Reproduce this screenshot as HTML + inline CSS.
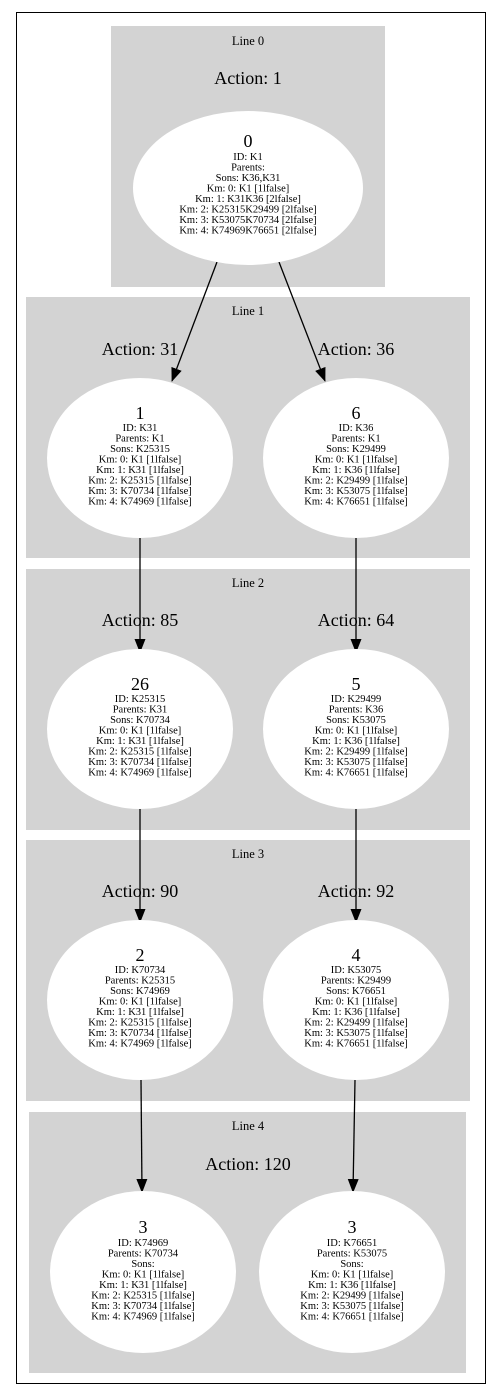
<!DOCTYPE html>
<html><head><meta charset="utf-8"><style>
html,body{margin:0;padding:0;background:#fff;width:496px;height:1400px;overflow:hidden}
text{font-family:"Liberation Serif",serif;fill:#000}
.t{font-size:10.5px}
.n{font-size:18px}
.a{font-size:18px}
.c{font-size:12.5px}
</style></head><body>
<svg width="496" height="1400" viewBox="0 0 496 1400" xmlns="http://www.w3.org/2000/svg">
<defs><marker id="ar" markerWidth="14" markerHeight="11" refX="13" refY="5.5" orient="auto" markerUnits="userSpaceOnUse" viewBox="0 0 14 11"><path d="M0,0 L14,5.5 L0,11 z" fill="#000"/></marker></defs>
<rect x="16.5" y="12.5" width="469" height="1371" fill="#fff" stroke="#000" stroke-width="1"/>
<rect x="111" y="26" width="274" height="261" fill="#d3d3d3"/>
<rect x="26" y="297" width="444" height="261" fill="#d3d3d3"/>
<rect x="26" y="569" width="444" height="261" fill="#d3d3d3"/>
<rect x="26" y="840" width="444" height="261" fill="#d3d3d3"/>
<rect x="29" y="1112" width="437" height="261" fill="#d3d3d3"/>
<g text-anchor="middle">
<text class="c" x="248" y="45">Line 0</text>
<text class="c" x="248" y="315">Line 1</text>
<text class="c" x="248" y="587">Line 2</text>
<text class="c" x="248" y="858">Line 3</text>
<text class="c" x="248" y="1130">Line 4</text>
<text class="a" x="248" y="84">Action: 1</text>
<text class="a" x="140" y="355">Action: 31</text>
<text class="a" x="356" y="355">Action: 36</text>
<text class="a" x="140" y="626">Action: 85</text>
<text class="a" x="356" y="626">Action: 64</text>
<text class="a" x="140" y="897">Action: 90</text>
<text class="a" x="356" y="897">Action: 92</text>
<text class="a" x="248" y="1170">Action: 120</text>
</g>
<g stroke="#000" stroke-width="1.3" fill="none" marker-end="url(#ar)">
<line x1="217" y1="262" x2="172" y2="381"/>
<line x1="279" y1="262" x2="325" y2="381"/>
<line x1="140" y1="538" x2="140" y2="652"/>
<line x1="356" y1="538" x2="356" y2="652"/>
<line x1="140" y1="808" x2="140" y2="922"/>
<line x1="356" y1="808" x2="356" y2="922"/>
<line x1="141" y1="1080" x2="142" y2="1192"/>
<line x1="355" y1="1080" x2="353" y2="1192"/>
</g>
<g fill="#fff">
<ellipse cx="248" cy="188" rx="115" ry="77"/>
<ellipse cx="140" cy="458" rx="93" ry="80"/>
<ellipse cx="356" cy="458" rx="93" ry="80"/>
<ellipse cx="140" cy="729" rx="93" ry="80"/>
<ellipse cx="356" cy="729" rx="93" ry="80"/>
<ellipse cx="140" cy="1000" rx="93" ry="80"/>
<ellipse cx="356" cy="1000" rx="93" ry="80"/>
<ellipse cx="143" cy="1272" rx="93" ry="81"/>
<ellipse cx="352" cy="1272" rx="93" ry="81"/>
</g>
<g text-anchor="middle">
<text class="n" x="248" y="147">0</text>
<text class="t" x="248" y="160">ID: K1</text>
<text class="t" x="248" y="170.5">Parents:</text>
<text class="t" x="248" y="181">Sons: K36,K31</text>
<text class="t" x="248" y="191.5">Km: 0: K1 [1lfalse]</text>
<text class="t" x="248" y="202">Km: 1: K31K36 [2lfalse]</text>
<text class="t" x="248" y="212.5">Km: 2: K25315K29499 [2lfalse]</text>
<text class="t" x="248" y="223">Km: 3: K53075K70734 [2lfalse]</text>
<text class="t" x="248" y="233.5">Km: 4: K74969K76651 [2lfalse]</text>

<text class="n" x="140" y="419">1</text>
<text class="t" x="140" y="431">ID: K31</text>
<text class="t" x="140" y="441.5">Parents: K1</text>
<text class="t" x="140" y="452">Sons: K25315</text>
<text class="t" x="140" y="462.5">Km: 0: K1 [1lfalse]</text>
<text class="t" x="140" y="473">Km: 1: K31 [1lfalse]</text>
<text class="t" x="140" y="483.5">Km: 2: K25315 [1lfalse]</text>
<text class="t" x="140" y="494">Km: 3: K70734 [1lfalse]</text>
<text class="t" x="140" y="504.5">Km: 4: K74969 [1lfalse]</text>

<text class="n" x="356" y="419">6</text>
<text class="t" x="356" y="431">ID: K36</text>
<text class="t" x="356" y="441.5">Parents: K1</text>
<text class="t" x="356" y="452">Sons: K29499</text>
<text class="t" x="356" y="462.5">Km: 0: K1 [1lfalse]</text>
<text class="t" x="356" y="473">Km: 1: K36 [1lfalse]</text>
<text class="t" x="356" y="483.5">Km: 2: K29499 [1lfalse]</text>
<text class="t" x="356" y="494">Km: 3: K53075 [1lfalse]</text>
<text class="t" x="356" y="504.5">Km: 4: K76651 [1lfalse]</text>

<text class="n" x="140" y="690">26</text>
<text class="t" x="140" y="702">ID: K25315</text>
<text class="t" x="140" y="712.5">Parents: K31</text>
<text class="t" x="140" y="723">Sons: K70734</text>
<text class="t" x="140" y="733.5">Km: 0: K1 [1lfalse]</text>
<text class="t" x="140" y="744">Km: 1: K31 [1lfalse]</text>
<text class="t" x="140" y="754.5">Km: 2: K25315 [1lfalse]</text>
<text class="t" x="140" y="765">Km: 3: K70734 [1lfalse]</text>
<text class="t" x="140" y="775.5">Km: 4: K74969 [1lfalse]</text>

<text class="n" x="356" y="690">5</text>
<text class="t" x="356" y="702">ID: K29499</text>
<text class="t" x="356" y="712.5">Parents: K36</text>
<text class="t" x="356" y="723">Sons: K53075</text>
<text class="t" x="356" y="733.5">Km: 0: K1 [1lfalse]</text>
<text class="t" x="356" y="744">Km: 1: K36 [1lfalse]</text>
<text class="t" x="356" y="754.5">Km: 2: K29499 [1lfalse]</text>
<text class="t" x="356" y="765">Km: 3: K53075 [1lfalse]</text>
<text class="t" x="356" y="775.5">Km: 4: K76651 [1lfalse]</text>

<text class="n" x="140" y="961">2</text>
<text class="t" x="140" y="973">ID: K70734</text>
<text class="t" x="140" y="983.5">Parents: K25315</text>
<text class="t" x="140" y="994">Sons: K74969</text>
<text class="t" x="140" y="1004.5">Km: 0: K1 [1lfalse]</text>
<text class="t" x="140" y="1015">Km: 1: K31 [1lfalse]</text>
<text class="t" x="140" y="1025.5">Km: 2: K25315 [1lfalse]</text>
<text class="t" x="140" y="1036">Km: 3: K70734 [1lfalse]</text>
<text class="t" x="140" y="1046.5">Km: 4: K74969 [1lfalse]</text>

<text class="n" x="356" y="961">4</text>
<text class="t" x="356" y="973">ID: K53075</text>
<text class="t" x="356" y="983.5">Parents: K29499</text>
<text class="t" x="356" y="994">Sons: K76651</text>
<text class="t" x="356" y="1004.5">Km: 0: K1 [1lfalse]</text>
<text class="t" x="356" y="1015">Km: 1: K36 [1lfalse]</text>
<text class="t" x="356" y="1025.5">Km: 2: K29499 [1lfalse]</text>
<text class="t" x="356" y="1036">Km: 3: K53075 [1lfalse]</text>
<text class="t" x="356" y="1046.5">Km: 4: K76651 [1lfalse]</text>

<text class="n" x="143" y="1233">3</text>
<text class="t" x="143" y="1246">ID: K74969</text>
<text class="t" x="143" y="1256.5">Parents: K70734</text>
<text class="t" x="143" y="1267">Sons:</text>
<text class="t" x="143" y="1277.5">Km: 0: K1 [1lfalse]</text>
<text class="t" x="143" y="1288">Km: 1: K31 [1lfalse]</text>
<text class="t" x="143" y="1298.5">Km: 2: K25315 [1lfalse]</text>
<text class="t" x="143" y="1309">Km: 3: K70734 [1lfalse]</text>
<text class="t" x="143" y="1319.5">Km: 4: K74969 [1lfalse]</text>

<text class="n" x="352" y="1233">3</text>
<text class="t" x="352" y="1246">ID: K76651</text>
<text class="t" x="352" y="1256.5">Parents: K53075</text>
<text class="t" x="352" y="1267">Sons:</text>
<text class="t" x="352" y="1277.5">Km: 0: K1 [1lfalse]</text>
<text class="t" x="352" y="1288">Km: 1: K36 [1lfalse]</text>
<text class="t" x="352" y="1298.5">Km: 2: K29499 [1lfalse]</text>
<text class="t" x="352" y="1309">Km: 3: K53075 [1lfalse]</text>
<text class="t" x="352" y="1319.5">Km: 4: K76651 [1lfalse]</text>
</g>
</svg>
</body></html>
